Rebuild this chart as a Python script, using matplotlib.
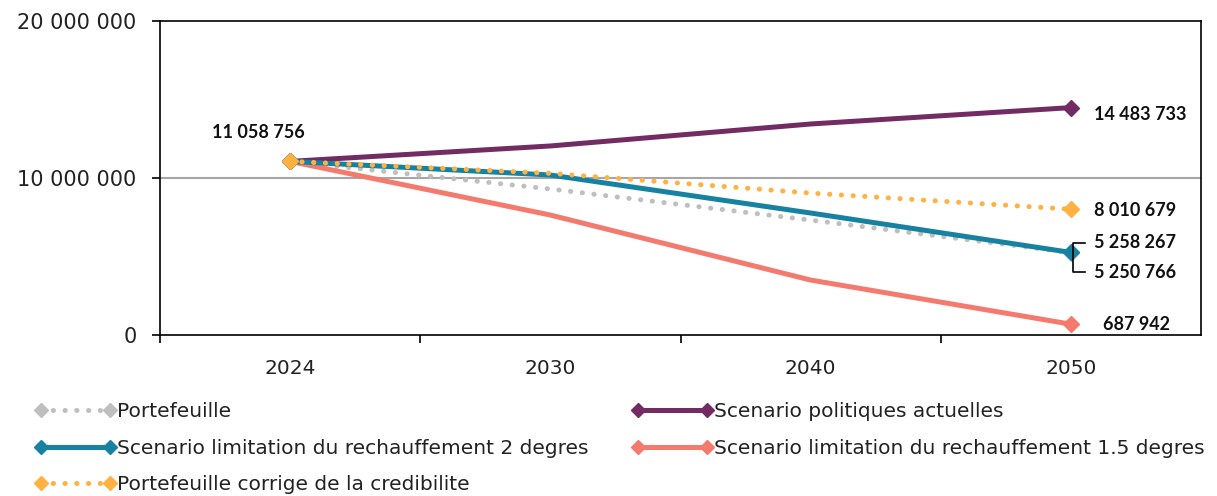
import matplotlib
matplotlib.use("Agg")
import matplotlib.pyplot as plt
from matplotlib.ticker import FuncFormatter, FixedLocator
from matplotlib.lines import Line2D

plt.rcParams['font.family'] = ['DejaVu Sans']

years = ["2024", "2030", "2040", "2050"]
portefeuille = [11058756, 9300000, 7320000, 5250766]
politiques = [11058756, 12040000, 13440000, 14483733]
rech_2 = [11058756, 10190000, 7770000, 5258267]
rech_15 = [11058756, 7640000, 3500000, 687942]
corrige = [11058756, 10300000, 9040000, 8010679]

names = ["Portefeuille", "Scenario politiques actuelles",
         "Scenario limitation du rechauffement 2 degres",
         "Scenario limitation du rechauffement 1.5 degres",
         "Portefeuille corrige de la credibilite"]
colors = {"gray": "#BFBFBF", "purple": "#722B63", "teal": "#1681A0",
          "salmon": "#F47A6E", "orange": "#FFB142"}

fig = plt.figure(figsize=(12.17, 4.96), dpi=100)
ax = fig.add_axes([160/1217, 1-335/496, (1201-160)/1217, (335-21)/496])

x = list(range(len(years)))
dot = (0, (0.05, 2.3))
common = dict(marker="D", markersize=8.5, markevery=[0, 3], solid_capstyle="butt")

h_port, = ax.plot(x, portefeuille, color=colors["gray"], lw=3.6, linestyle=dot,
                  dash_capstyle="round", zorder=3, label=names[0], **common)
h_pol, = ax.plot(x, politiques, color=colors["purple"], lw=3.6, zorder=3, label=names[1], **common)
h_2, = ax.plot(x, rech_2, color=colors["teal"], lw=3.6, zorder=4, label=names[2], **common)
h_15, = ax.plot(x, rech_15, color=colors["salmon"], lw=3.6, zorder=3, label=names[3], **common)
h_cor, = ax.plot(x, corrige, color=colors["orange"], lw=3.6, linestyle=dot,
                 dash_capstyle="round", zorder=5, label=names[4], **common)

ax.set_xlim(-0.5, 3.5)
ax.set_ylim(0, 20000000)

fmt = FuncFormatter(lambda v, p: f"{v:,.0f}".replace(",", " "))
ax.yaxis.set_major_formatter(fmt)
ax.yaxis.set_major_locator(FixedLocator([0, 10000000, 20000000]))
ax.tick_params(axis="y", direction="out", length=6, width=1.2, pad=11, labelsize=15,
               colors="black", labelcolor="#222222")

ax.xaxis.set_major_locator(FixedLocator([-0.5, 0.5, 1.5, 2.5]))
ax.xaxis.set_major_formatter(FuncFormatter(lambda v, p: ""))
ax.set_xticks(x, minor=True)
ax.set_xticklabels(years, minor=True)
ax.tick_params(axis="x", which="major", direction="out", length=6, width=1.2)
ax.tick_params(axis="x", which="minor", length=0, pad=17, labelsize=14.5, labelcolor="#222222")

ax.axhline(10000000, color="#A6A6A6", lw=1.5, zorder=1)
for s in ax.spines.values():
    s.set_linewidth(1.2)
    s.set_color("black")

def lab(xi, yv, text, dx, dy, ha="left"):
    ax.annotate(text, (xi, yv), xytext=(dx, dy), textcoords="offset points",
                ha=ha, va="center", fontsize=13, fontweight="bold", color="#111111",
                family=["Lato", "DejaVu Sans"], zorder=6)

fmtv = lambda v: f"{v:,.0f}".replace(",", " ")
lab(0, corrige[0], fmtv(corrige[0]), -23, 21, ha="center")
lab(3, politiques[3], fmtv(politiques[3]), 17, -5)
lab(3, corrige[3], fmtv(corrige[3]), 17, -1)
lab(3, rech_2[3], fmtv(rech_2[3]), 17, 7)
lab(3, portefeuille[3], fmtv(portefeuille[3]), 17, -14)
lab(3, rech_15[3], fmtv(rech_15[3]), 23, 0)

# bracket leader for the two close labels
base = ax.transData.transform((3, rech_2[3]))
pts_pt = [(10, 7), (1.5, 7), (1.5, -14), (10, -14)]
px = [(base[0] + a / 72 * fig.dpi, base[1] + b / 72 * fig.dpi) for a, b in pts_pt]
inv = fig.transFigure.inverted()
fpts = [inv.transform(p) for p in px]
fig.add_artist(Line2D([p[0] for p in fpts], [p[1] for p in fpts], color="black",
                      lw=1.2, transform=fig.transFigure, zorder=7))

leg_kw = dict(loc="upper left", frameon=False, fontsize=14.5, handlelength=4.0,
              handletextpad=0.05, borderpad=0, borderaxespad=0, labelspacing=0.88,
              numpoints=2, markerscale=0.8, labelcolor="#222222")
leg1 = fig.legend([h_port, h_2, h_cor], [names[0], names[2], names[4]],
                  bbox_to_anchor=(35/1217, 1-402/496), **leg_kw)
leg2 = fig.legend([h_pol, h_15], [names[1], names[3]],
                  bbox_to_anchor=(632/1217, 1-402/496), **leg_kw)

fig.savefig("out.png", dpi=100)
